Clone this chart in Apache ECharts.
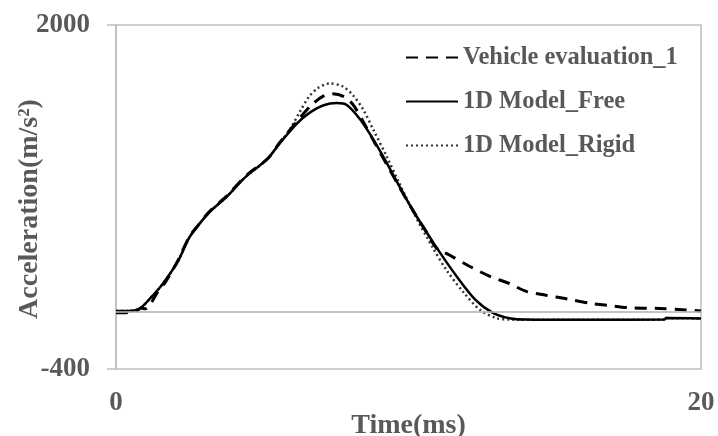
<!DOCTYPE html>
<html lang="en">
<head>
    <meta charset="utf-8">
    <title>Acceleration</title>
    <script src="https://cdn.jsdelivr.net/npm/echarts@6/dist/echarts.min.js"></script>
    <style>
        html, body { margin: 0; padding: 0; background: #fff; }
        #chart { width: 718px; height: 436px; }
    </style>
</head>
<body>
<div id="chart"></div>
<script type="text/javascript">
    var seriesNames = ['Vehicle evaluation_1', '1D Model_Free', '1D Model_Rigid'];
    var xTicks = [0, 20];
    var yTicks = [-400, 2000];

    // [time ms, acceleration m/s2]
    var vehicleData = [
        [0, -8], [0.4, -5], [0.7, 5], [0.85, 25], [1.0, 20], [1.2, 60], [1.4, 130], [1.7, 210],
        [2.1, 350], [2.5, 520], [2.8, 600], [3.2, 700], [3.8, 810], [4.3, 920], [4.6, 975],
        [5.2, 1070], [5.6, 1180], [6.2, 1330], [6.7, 1445], [7.1, 1505], [7.4, 1520], [7.8, 1500],
        [8.1, 1445], [8.4, 1345], [8.8, 1195], [9.25, 1030], [9.7, 865], [10.2, 690], [10.6, 560],
        [10.95, 445], [11.4, 395], [12.1, 315], [12.8, 245], [13.4, 200], [14.05, 140], [14.7, 115],
        [15.4, 90], [16.3, 55], [16.8, 45], [17.5, 28], [18.6, 22], [19.5, 12], [20, 5]
    ];
    var freeData = [
        [0, 5], [0.4, 5], [0.8, 20], [1.2, 100], [1.6, 195], [2.1, 345], [2.5, 515], [2.8, 600],
        [3.2, 695], [3.8, 805], [4.3, 915], [4.6, 970], [5.15, 1060], [5.6, 1175], [6.2, 1315],
        [6.6, 1385], [7.1, 1440], [7.55, 1455], [7.9, 1440], [8.35, 1340], [8.8, 1200], [9.25, 1040],
        [9.7, 870], [10.2, 690], [10.95, 450], [11.65, 245], [12.3, 80], [12.9, -10], [13.5, -48],
        [14, -55], [16, -57], [18.75, -55], [18.8, -45], [20, -48]
    ];
    var rigidData = [
        [0, 5], [0.4, 5], [0.8, 20], [1.2, 100], [1.6, 195], [2.1, 345], [2.5, 515], [2.8, 600],
        [3.2, 695], [3.8, 805], [4.3, 915], [4.6, 970], [5.15, 1060], [5.6, 1175], [6.0, 1290],
        [6.3, 1400], [6.6, 1500], [6.9, 1560], [7.3, 1592], [7.75, 1572], [8.1, 1510], [8.45, 1410],
        [8.8, 1268], [9.25, 1085], [9.7, 890], [10.2, 680], [10.85, 440], [11.3, 290], [11.9, 130],
        [12.45, 12], [13.0, -45], [13.5, -55], [16, -57], [18.75, -55], [18.8, -45], [20, -48]
    ];

    var fontFamily = '"Liberation Serif", "Times New Roman", serif';
    var textColor = '#595959';
    var gray = '#bfbfbf';

    var myChart = echarts.init(document.getElementById('chart'));

    var option = {
        animation: false,
        backgroundColor: '#fff',
        grid: {
            left: 116,
            right: 17,
            top: 25,
            bottom: 67,
            outerBoundsMode: 'none',
            containLabel: false,
            show: true,
            borderColor: gray,
            borderWidth: 1.5
        },
        legend: {
            orient: 'vertical',
            left: 400,
            top: 40,
            itemWidth: 52,
            itemHeight: 14,
            itemGap: 19,
            data: seriesNames,
            itemStyle: { opacity: 0 },
            textStyle: {
                fontFamily: fontFamily,
                fontWeight: 'bold',
                fontSize: 24.5,
                color: textColor
            }
        },
        xAxis: {
            type: 'value',
            min: 0,
            max: 20,
            interval: 20,
            name: 'Time(ms)',
            nameLocation: 'middle',
            nameGap: 43,
            nameMoveOverlap: false,
            nameTextStyle: {
                fontFamily: fontFamily,
                fontWeight: 'bold',
                fontSize: 28,
                color: textColor
            },
            axisLine: { show: true, lineStyle: { color: gray, width: 1.5 } },
            axisTick: { show: false },
            splitLine: { show: false },
            axisLabel: {
                customValues: xTicks,
                margin: 21,
                fontFamily: fontFamily,
                fontWeight: 'bold',
                fontSize: 27,
                color: textColor
            }
        },
        yAxis: {
            type: 'value',
            min: -400,
            max: 2000,
            interval: 400,
            name: 'Acceleration(m/s²)',
            nameLocation: 'middle',
            nameGap: 72,
            nameMoveOverlap: false,
            nameTextStyle: {
                fontFamily: fontFamily,
                fontWeight: 'bold',
                fontSize: 28,
                color: textColor,
                padding: [0, 24, 0, 0]
            },
            axisLine: { show: true, lineStyle: { color: gray, width: 1.5 } },
            axisTick: {
                show: true,
                customValues: yTicks,
                length: 9,
                lineStyle: { color: gray, width: 1.5 }
            },
            splitLine: { show: false },
            axisLabel: {
                customValues: yTicks,
                margin: 26,
                formatter: function (v) { return String(v); },
                fontFamily: fontFamily,
                fontWeight: 'bold',
                fontSize: 27,
                color: textColor
            }
        },
        series: [
            {
                name: seriesNames[0],
                type: 'line',
                data: vehicleData,
                symbol: 'none',
                smooth: 0.3,
                z: 3,
                lineStyle: { color: '#000', width: 3, type: [12, 8] },
                itemStyle: { color: '#000' },
                markLine: {
                    silent: true,
                    symbol: ['none', 'none'],
                    label: { show: false },
                    lineStyle: { color: gray, width: 1.5, type: 'solid' },
                    data: [{ yAxis: 0 }]
                }
            },
            {
                name: seriesNames[1],
                type: 'line',
                data: freeData,
                symbol: 'none',
                smooth: 0.3,
                z: 4,
                lineStyle: { color: '#000', width: 2.5, type: 'solid' },
                itemStyle: { color: '#000' }
            },
            {
                name: seriesNames[2],
                type: 'line',
                data: rigidData,
                symbol: 'none',
                smooth: 0.3,
                z: 2,
                lineStyle: { color: '#333', width: 2.5, type: [2, 3] },
                itemStyle: { color: '#333' }
            }
        ]
    };

    myChart.setOption(option);
</script>
</body>
</html>
